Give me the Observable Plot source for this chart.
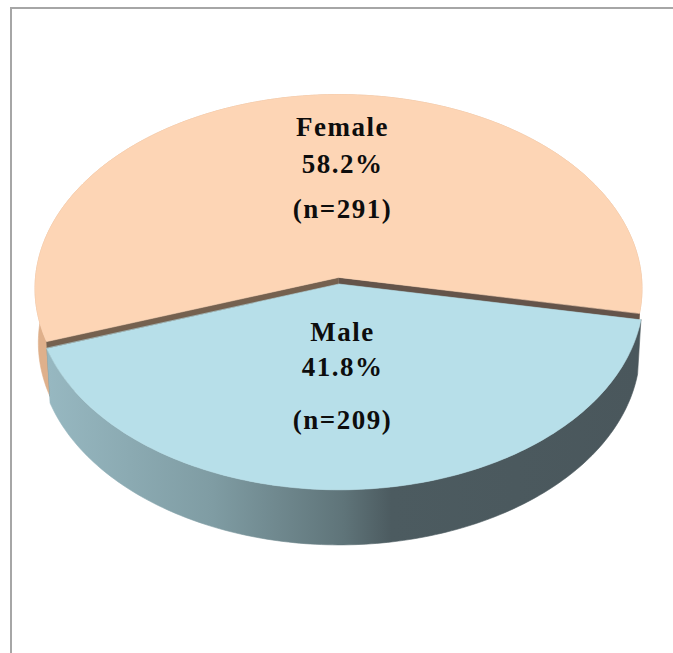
<!DOCTYPE html>
<html><head><meta charset="utf-8">
<script src="https://cdn.jsdelivr.net/npm/d3@7"></script>
<script src="https://cdn.jsdelivr.net/npm/@observablehq/plot@0.6"></script>
<style>
body{margin:0;background:#fff;}
#wrap{position:relative;width:673px;height:653px;overflow:hidden;}
#frame{position:absolute;left:10px;top:7px;width:720px;height:720px;border-left:2px solid #a6a6a6;border-top:2px solid #a6a6a6;box-sizing:border-box;}
#chart{position:absolute;left:0;top:0;}
#chart text{letter-spacing:1.5px;}
</style></head><body>
<div id="wrap"><div id="frame"></div><div id="chart"></div></div>
<script>
// ---- data ----
const categories = ["Female", "Male"];
const percents = [58.2, 41.8];
const counts = [291, 209];

// ---- styling / layout ----
const topColors = ["#fdd5b5", "#b7dfe9"];
const wallColors = ["#dfb08b", "url(#maleSide)"];
const cutColors = ["#64544a", "#75614f"];
const explode = [0, 0.034];
const startDeg = -109;
const tiltS = 0.638, tiltC = 0.770, persp = 0.0736, thick = 0.235;

const rows = categories.map((c, i) => ({name: c, pct: percents[i], n: counts[i], i}));
const a0 = startDeg * Math.PI / 180;
const arcs = d3.pie().sort(null).value(d => d.pct).startAngle(a0).endAngle(a0 + 2 * Math.PI)(rows);

function proj(X, Z, h) {
  const zc = 1 + persp * (Z * tiltC - h * tiltS);
  return {x: X / zc, y: (Z * tiltS + h * tiltC) / zc};
}

function rim(a, b, h, ox, oz) {
  const pts = [];
  const n = Math.max(2, Math.ceil(Math.abs(b - a) / (Math.PI / 180)));
  for (let k = 0; k <= n; k++) {
    const t = a + (b - a) * k / n;
    pts.push(proj(Math.sin(t) + ox, Math.cos(t) + oz, h));
  }
  return pts;
}

const marks = [];
const labels = [];
arcs.forEach((arc, i) => {
  const mid = (arc.startAngle + arc.endAngle) / 2;
  const ox = explode[i] * Math.sin(mid), oz = explode[i] * Math.cos(mid);
  const topRim = rim(arc.startAngle, arc.endAngle, 0, ox, oz);
  const botRim = rim(arc.startAngle, arc.endAngle, -thick, ox, oz);
  // outer wall
  const wall = topRim.concat(botRim.slice().reverse());
  marks.push(Plot.line(wall, {x: "x", y: "y", fill: wallColors[i], stroke: wallColors[i], strokeWidth: 0.6, curve: "linear-closed"}));
  // radial cut walls
  if (explode[i] === 0) {
    [arc.endAngle, arc.startAngle].forEach((ang, j) => {
      const c0 = proj(ox, oz, 0), c1 = proj(ox, oz, -thick);
      const r0 = proj(Math.sin(ang) + ox, Math.cos(ang) + oz, 0);
      const r1 = proj(Math.sin(ang) + ox, Math.cos(ang) + oz, -thick);
      marks.push(Plot.line([c0, r0, r1, c1], {x: "x", y: "y", fill: cutColors[j], stroke: cutColors[j], strokeWidth: 0.6, curve: "linear-closed"}));
    });
  }
  // top face
  const face = [proj(ox, oz, 0)].concat(topRim);
  marks.push(Plot.line(face, {x: "x", y: "y", fill: topColors[i], stroke: topColors[i], strokeWidth: 0.6, curve: "linear-closed"}));
  const anchor = proj(0, 0.55 * Math.cos(mid) + oz, 0);
  labels.push({...anchor, name: arc.data.name, pct: arc.data.pct.toFixed(1) + "%", n: "(n=" + arc.data.n + ")", i});
});

const lineOffsets = [[-39, -2, 43], [-53, -18, 35]];
const fields = ["name", "pct", "n"];
labels.forEach((lab, i) => {
  fields.forEach((f, k) => {
    marks.push(Plot.text([lab], {x: "x", y: "y", text: f, dx: 4, dy: lineOffsets[i][k], lineAnchor: "bottom",
      fontSize: 27, fontWeight: "bold", fontFamily: "Liberation Serif, Times New Roman, serif", fill: "#0d0d0d"}));
  });
});

const chart = Plot.plot({
  width: 673, height: 653,
  margin: 0,
  x: {domain: [-1, 1], range: [35, 641], axis: null},
  y: {domain: [-1, 1], range: [580, -26], axis: null},
  style: {background: "transparent", overflow: "visible"},
  marks
});

const defs = d3.select(chart).insert("defs", ":first-child");
const grad = defs.append("linearGradient").attr("id", "maleSide").attr("x1", 0).attr("x2", 1).attr("y1", 0).attr("y2", 0);
[[0, "#97b8c1"], [0.28, "#7f9ca3"], [0.5, "#5f7479"], [0.58, "#4c5b60"], [1, "#4a575c"]]
  .forEach(([o, c]) => grad.append("stop").attr("offset", o).attr("stop-color", c));

document.getElementById("chart").appendChild(chart);
</script>
</body></html>
